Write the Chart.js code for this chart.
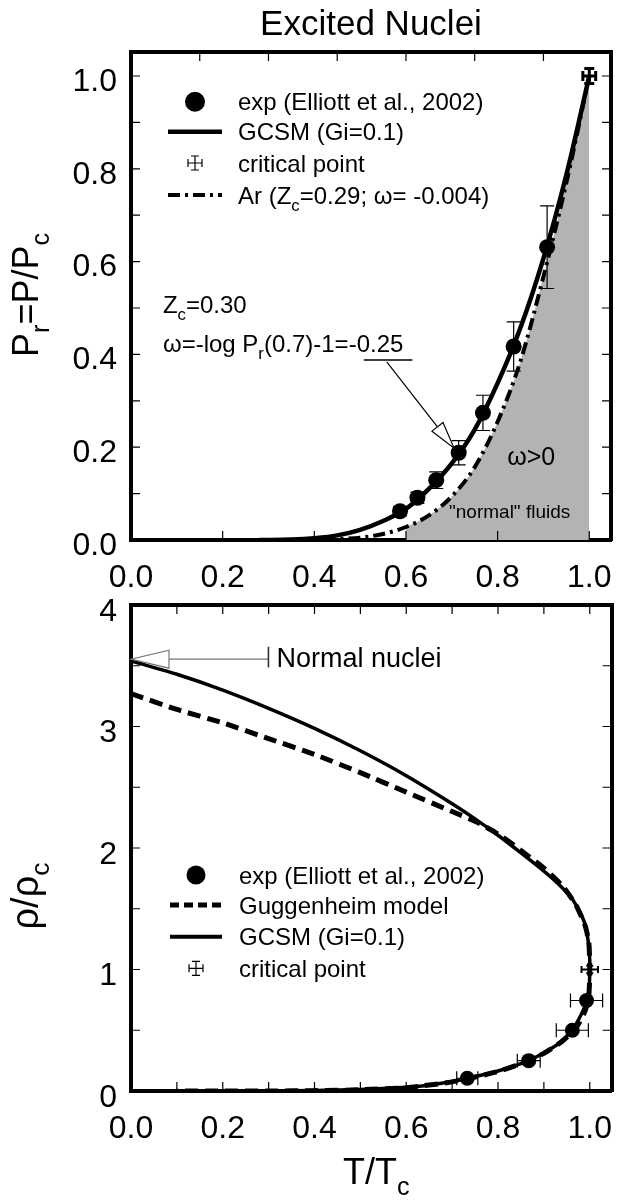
<!DOCTYPE html>
<html>
<head>
<meta charset="utf-8">
<script src="https://cdn.jsdelivr.net/npm/chart.js@4.4.0/dist/chart.umd.min.js"></script>
<style>
  html, body { margin: 0; padding: 0; background: #fff; }
  #wrap { position: relative; width: 619px; height: 1203px; overflow: hidden; }
  canvas { position: absolute; left: 0; }
  #top { top: 0; }
  #bottom { top: 560px; }
</style>
</head>
<body>
<div id="wrap">
  <canvas id="top" width="619" height="600"></canvas>
  <canvas id="bottom" width="619" height="643"></canvas>
</div>
<script>
// ---- upper panel: reduced pressure vs reduced temperature ----
const expT = [0.587, 0.625, 0.666, 0.715, 0.768, 0.835, 0.908];
const expP = [0.062, 0.091, 0.129, 0.188, 0.274, 0.417, 0.631];
const expPErr = [0.010, 0.012, 0.018, 0.026, 0.038, 0.053, 0.089];
const critT = 1.0, critP = 1.0, critPErr = 0.016, critTErr = 0.014;

const gcsmT = [0.28, 0.35, 0.40, 0.45, 0.50, 0.55, 0.60, 0.65, 0.70, 0.75, 0.80, 0.85, 0.90, 0.95, 1.00];
const gcsmP = [0.000, 0.001, 0.004, 0.010, 0.022, 0.041, 0.067, 0.110, 0.165, 0.238, 0.338, 0.458, 0.607, 0.787, 1.000];

const arT = [0.42, 0.45, 0.50, 0.55, 0.60, 0.65, 0.70, 0.75, 0.80, 0.85, 0.90, 0.95, 1.00];
const arP = [0.000, 0.002, 0.005, 0.013, 0.028, 0.053, 0.094, 0.157, 0.255, 0.386, 0.568, 0.770, 1.000];
const shadeFrom = 0.6;

// ---- lower panel: coexistence curve rho/rho_c vs T/T_c ----
const expRhoT = [0.733, 0.867, 0.962, 0.993];
const expRho = [0.105, 0.25, 0.50, 0.745];
const expRhoTErr = [0.023, 0.025, 0.035, 0.035];
const critRhoT = 1.0, critRho = 1.0, critRhoTErr = 0.018, critRhoErr = 0.03;

const gcsmRhoT = [0.00, 0.10, 0.20, 0.30, 0.40, 0.50, 0.60, 0.70, 0.75, 0.80, 0.85, 0.90, 0.93, 0.96, 0.98, 0.99, 0.997, 1.000,
                  1.000, 0.999, 0.994, 0.980, 0.961, 0.932, 0.900, 0.867, 0.800, 0.734, 0.700, 0.644, 0.600, 0.500, 0.400, 0.300, 0.200, 0.100];
const gcsmRho = [3.54, 3.43, 3.30, 3.15, 2.985, 2.80, 2.595, 2.365, 2.24, 2.105, 1.96, 1.81, 1.71, 1.59, 1.46, 1.37, 1.22, 1.08,
                 1.00, 0.86, 0.745, 0.62, 0.50, 0.39, 0.315, 0.25, 0.165, 0.105, 0.078, 0.045, 0.030, 0.012, 0.004, 0.001, 0.000, 0.000];

const gugT = [0.00, 0.10, 0.20, 0.30, 0.40, 0.50, 0.60, 0.70, 0.75, 0.80, 0.85, 0.90, 0.94, 0.97, 0.99, 0.998, 1.000,
              0.998, 0.99, 0.97, 0.94, 0.90, 0.85, 0.80, 0.70, 0.60, 0.50, 0.40, 0.30, 0.20, 0.10];
const gugRho = [3.27, 3.14, 3.03, 2.90, 2.77, 2.62, 2.46, 2.30, 2.22, 2.115, 1.98, 1.835, 1.69, 1.53, 1.36, 1.22, 1.00,
                0.79, 0.66, 0.52, 0.41, 0.31, 0.225, 0.16, 0.075, 0.028, 0.010, 0.003, 0.000, 0.000, 0.000];

const FONT = '"Liberation Sans", Arial, Helvetica, sans-serif';
Chart.defaults.font.family = FONT;
Chart.defaults.color = '#000';

const pts = (xs, ys) => xs.map((x, i) => ({ x: x, y: ys[i] }));

function axis(position, min, max, step, labelFn, size, labelOffset) {
  return {
    type: 'linear', position: position, min: min, max: max, display: true,
    grid: { drawOnChartArea: false, drawTicks: false, color: '#000' },
    border: { display: true, color: '#000', width: 4 },
    ticks: {
      stepSize: step, autoSkip: false, includeBounds: false, maxRotation: 0,
      display: !!labelFn, callback: labelFn || (() => ''),
      font: { size: 32 }, color: '#000',
      padding: (position === 'left') ? 14 : 19,
      labelOffset: labelOffset || 0
    },
    afterFit: (s) => {
      if (s.isHorizontal()) s.height = size; else s.width = size;
      s.paddingLeft = 0; s.paddingRight = 0; s.paddingTop = 0; s.paddingBottom = 0;
    }
  };
}

// short tick marks pointing into the frame, on all four sides
function inwardTicks(chart, len) {
  const ctx = chart.ctx, a = chart.chartArea;
  ctx.save();
  ctx.strokeStyle = '#000';
  ctx.lineWidth = 1.2;
  ctx.beginPath();
  Object.values(chart.scales).forEach(s => {
    s.ticks.forEach(t => {
      const p = s.getPixelForValue(t.value);
      if (s.position === 'left') { ctx.moveTo(a.left, p); ctx.lineTo(a.left + len, p); }
      else if (s.position === 'right') { ctx.moveTo(a.right, p); ctx.lineTo(a.right - len, p); }
      else if (s.position === 'top') { ctx.moveTo(p, a.top); ctx.lineTo(p, a.top + len); }
      else { ctx.moveTo(p, a.bottom); ctx.lineTo(p, a.bottom - len); }
    });
  });
  ctx.stroke();
  ctx.restore();
}

// text with subscripts: parts = [[text, isSub], ...]
function rich(ctx, parts, x, y, size, align, rotate) {
  ctx.save();
  ctx.translate(x, y);
  if (rotate) ctx.rotate(-Math.PI / 2);
  ctx.fillStyle = '#000';
  ctx.textBaseline = 'alphabetic';
  ctx.textAlign = 'left';
  const sub = size * 0.7;
  let w = 0;
  parts.forEach(p => { ctx.font = (p[1] ? sub : size) + 'px ' + FONT; w += ctx.measureText(p[0]).width; });
  let cx = align === 'center' ? -w / 2 : 0;
  parts.forEach(p => {
    ctx.font = (p[1] ? sub : size) + 'px ' + FONT;
    ctx.fillText(p[0], cx, p[1] ? size * 0.3 : 0);
    cx += ctx.measureText(p[0]).width;
  });
  ctx.restore();
}

function errCross(ctx, px, py, dx, dy, cap, lw) {
  ctx.save();
  ctx.strokeStyle = '#000';
  ctx.lineWidth = lw;
  ctx.beginPath();
  if (dy > 0) {
    ctx.moveTo(px, py - dy); ctx.lineTo(px, py + dy);
    ctx.moveTo(px - cap, py - dy); ctx.lineTo(px + cap, py - dy);
    ctx.moveTo(px - cap, py + dy); ctx.lineTo(px + cap, py + dy);
  }
  if (dx > 0) {
    ctx.moveTo(px - dx, py); ctx.lineTo(px + dx, py);
    ctx.moveTo(px - dx, py - cap); ctx.lineTo(px - dx, py + cap);
    ctx.moveTo(px + dx, py - cap); ctx.lineTo(px + dx, py + cap);
  }
  ctx.stroke();
  ctx.restore();
}

function hollowArrow(ctx, x1, y1, x2, y2, len, half, color, lw) {
  const a = Math.atan2(y2 - y1, x2 - x1);
  const bx = x2 - len * Math.cos(a), by = y2 - len * Math.sin(a);
  ctx.save();
  ctx.strokeStyle = color;
  ctx.lineWidth = lw;
  ctx.beginPath(); ctx.moveTo(x1, y1); ctx.lineTo(bx, by); ctx.stroke();
  ctx.beginPath();
  ctx.moveTo(x2, y2);
  ctx.lineTo(bx + half * Math.sin(a), by - half * Math.cos(a));
  ctx.lineTo(bx - half * Math.sin(a), by + half * Math.cos(a));
  ctx.closePath();
  ctx.fillStyle = '#fff'; ctx.fill(); ctx.stroke();
  ctx.restore();
}

function legendRow(ctx, kind, x0, x1, y, style) {
  ctx.save();
  ctx.strokeStyle = '#000'; ctx.fillStyle = '#000';
  if (kind === 'dot') {
    ctx.beginPath(); ctx.arc((x0 + x1) / 2, y, style.r, 0, Math.PI * 2); ctx.fill();
  } else if (kind === 'line') {
    ctx.lineWidth = style.w; ctx.setLineDash(style.dash || []);
    ctx.beginPath(); ctx.moveTo(x0, y); ctx.lineTo(x1, y); ctx.stroke();
  } else if (kind === 'err') {
    errCross(ctx, (x0 + x1) / 2, y, 7, 7, 4, 1.2);
  }
  ctx.restore();
}

const AR_DASH = [12, 5, 3, 5];
const GUG_DASH = [13, 7];

// ---------------- upper chart ----------------
const topDecor = {
  id: 'topDecor',
  afterDatasetsDraw(chart) {
    const ctx = chart.ctx, xs = chart.scales.x, ys = chart.scales.y;
    expT.forEach((t, i) => errCross(ctx, xs.getPixelForValue(t), ys.getPixelForValue(expP[i]),
      0, ys.getPixelForValue(0) - ys.getPixelForValue(expPErr[i]), 7, 1.2));
    errCross(ctx, xs.getPixelForValue(critT), ys.getPixelForValue(critP),
      xs.getPixelForValue(critTErr) - xs.getPixelForValue(0),
      ys.getPixelForValue(0) - ys.getPixelForValue(critPErr), 5, 3);
  },
  afterDraw(chart) {
    const ctx = chart.ctx, xs = chart.scales.x, ys = chart.scales.y, a = chart.chartArea;
    const X = v => xs.getPixelForValue(v), Y = v => ys.getPixelForValue(v);
    inwardTicks(chart, 9);
    // title and axis title
    rich(ctx, [['Excited Nuclei']], (a.left + a.right) / 2, a.top - 17, 35, 'center');
    rich(ctx, [['P'], ['r', 1], ['=P/P'], ['c', 1]], a.left - 93, a.top + 243, 36, 'center', true);
    // legend
    const L = a.left, T = a.top, fs = 24;
    const rows = [
      ['dot', [['exp (Elliott et al., 2002)']], { r: 10 }],
      ['line', [['GCSM (Gi=0.1)']], { w: 4.5 }],
      ['err', [['critical point']], {}],
      ['line', [['Ar (Z'], ['c', 1], ['=0.29; \u03c9= -0.004)']], { w: 4, dash: AR_DASH }]
    ];
    const rowY = [49.7, 79.7, 111, 143];
    rows.forEach((r, i) => {
      legendRow(ctx, r[0], L + 37, L + 91, T + rowY[i], r[2]);
      rich(ctx, r[1], L + 107, T + rowY[i] + fs * 0.36, fs, 'left');
    });
    // annotations
    rich(ctx, [['Z'], ['c', 1], ['=0.30']], X(0.0696), Y(0.489), 24, 'left');
    rich(ctx, [['\u03c9=-log P'], ['r', 1], ['(0.7)-1=-0.25']], X(0.0696), Y(0.406), 24, 'left');
    rich(ctx, [['\u03c9>0']], X(0.821), Y(0.162), 25, 'left');
    rich(ctx, [['"normal" fluids']], X(0.694), Y(0.047), 19, 'left');
    ctx.save();
    ctx.strokeStyle = '#000'; ctx.lineWidth = 1.5;
    ctx.beginPath(); ctx.moveTo(X(0.508), Y(0.388)); ctx.lineTo(X(0.614), Y(0.388)); ctx.stroke();
    ctx.restore();
    hollowArrow(ctx, X(0.558), Y(0.384), X(0.705), Y(0.198), 27, 7, '#000', 1.2);
  }
};

new Chart(document.getElementById('top'), {
  type: 'scatter',
  data: {
    datasets: [
      {
        label: 'shade', data: pts(arT, arP).filter(p => p.x >= shadeFrom),
        showLine: true, fill: 'origin', backgroundColor: '#b3b3b3', borderWidth: 0,
        pointRadius: 0, cubicInterpolationMode: 'monotone', order: 10
      },
      {
        label: 'Ar', data: pts(arT, arP), showLine: true, borderColor: '#000', borderWidth: 4,
        borderDash: AR_DASH, pointRadius: 0, cubicInterpolationMode: 'monotone', order: 3
      },
      {
        label: 'GCSM', data: pts(gcsmT, gcsmP), showLine: true, borderColor: '#000', borderWidth: 4.5,
        pointRadius: 0, cubicInterpolationMode: 'monotone', order: 2
      },
      {
        label: 'exp', data: pts(expT, expP), showLine: false, pointRadius: 8,
        pointBackgroundColor: '#000', pointBorderWidth: 0, order: 1
      }
    ]
  },
  options: {
    responsive: false, animation: false, devicePixelRatio: 1,
    layout: { padding: 0 },
    plugins: { legend: { display: false }, tooltip: { enabled: false } },
    scales: {
      x: axis('bottom', 0, 1.0474, 0.2, v => v.toFixed(1), 60),
      x2: axis('top', 0, 1.0474, 0.15, null, 52),
      y: axis('left', 0, 1.0517, 0.1, v => (Math.round(v * 10) % 2 === 0 ? v.toFixed(1) : ''), 131, 6),
      y2: axis('right', 0, 1.0517, 0.1, null, 2)
    }
  },
  plugins: [topDecor]
});

// ---------------- lower chart ----------------
const bottomDecor = {
  id: 'bottomDecor',
  afterDatasetsDraw(chart) {
    const ctx = chart.ctx, xs = chart.scales.x, ys = chart.scales.y;
    expRhoT.forEach((t, i) => errCross(ctx, xs.getPixelForValue(t), ys.getPixelForValue(expRho[i]),
      xs.getPixelForValue(expRhoTErr[i]) - xs.getPixelForValue(0), 0, 7, 1.2));
    errCross(ctx, xs.getPixelForValue(critRhoT), ys.getPixelForValue(critRho),
      xs.getPixelForValue(critRhoTErr) - xs.getPixelForValue(0),
      ys.getPixelForValue(0) - ys.getPixelForValue(critRhoErr), 3.5, 2);
  },
  afterDraw(chart) {
    const ctx = chart.ctx, xs = chart.scales.x, ys = chart.scales.y, a = chart.chartArea;
    const X = v => xs.getPixelForValue(v), Y = v => ys.getPixelForValue(v);
    inwardTicks(chart, 9);
    rich(ctx, [['T/T'], ['c', 1]], (a.left + a.right) / 2 + 5, a.bottom + 93, 36, 'center');
    rich(ctx, [['\u03c1/\u03c1'], ['c', 1]], a.left - 93, a.top + 291, 38, 'center', true);
    const L = a.left, T = a.top, fs = 24;
    const rows = [
      ['dot', [['exp (Elliott et al., 2002)']], { r: 9.5 }],
      ['line', [['Guggenheim model']], { w: 5, dash: [9, 5] }],
      ['line', [['GCSM (Gi=0.1)']], { w: 4 }],
      ['err', [['critical point']], {}]
    ];
    const rowY = [270, 300, 331.7, 363.3];
    rows.forEach((r, i) => {
      legendRow(ctx, r[0], L + 39, L + 91, T + rowY[i], r[2]);
      rich(ctx, r[1], L + 108, T + rowY[i] + fs * 0.36, fs, 'left');
    });
    // normal nuclei marker
    hollowArrow(ctx, X(0.2996), Y(3.554), X(0), Y(3.554), 38, 9, '#777', 1.2);
    ctx.save();
    ctx.strokeStyle = '#333'; ctx.lineWidth = 1.6;
    ctx.beginPath(); ctx.moveTo(X(0.2996), Y(3.486)); ctx.lineTo(X(0.2996), Y(3.656)); ctx.stroke();
    ctx.restore();
    rich(ctx, [['Normal nuclei']], X(0.317), Y(3.488), 27, 'left');
  }
};

new Chart(document.getElementById('bottom'), {
  type: 'scatter',
  data: {
    datasets: [
      {
        label: 'Guggenheim model', data: pts(gugT, gugRho), showLine: true, borderColor: '#000',
        borderWidth: 5, borderDash: GUG_DASH, pointRadius: 0, tension: 0.2, order: 3
      },
      {
        label: 'GCSM', data: pts(gcsmRhoT, gcsmRho), showLine: true, borderColor: '#000',
        borderWidth: 3.5, pointRadius: 0, tension: 0.2, order: 2
      },
      {
        label: 'exp', data: pts(expRhoT, expRho), showLine: false, pointRadius: 7.5,
        pointBackgroundColor: '#000', pointBorderWidth: 0, order: 1
      }
    ]
  },
  options: {
    responsive: false, animation: false, devicePixelRatio: 1,
    layout: { padding: 0 },
    plugins: { legend: { display: false }, tooltip: { enabled: false } },
    scales: {
      x: axis('bottom', 0, 1.0474, 0.1, v => (Math.round(v * 10) % 2 === 0 ? v.toFixed(1) : ''), 112),
      x2: axis('top', 0, 1.0474, 0.1, null, 45),
      y: axis('left', 0, 4, 0.5, v => (Math.abs(v - Math.round(v)) < 1e-6 ? String(Math.round(v)) : ''), 131, 7),
      y2: axis('right', 0, 4, 0.5, null, 2)
    }
  },
  plugins: [bottomDecor]
});
</script>
</body>
</html>
